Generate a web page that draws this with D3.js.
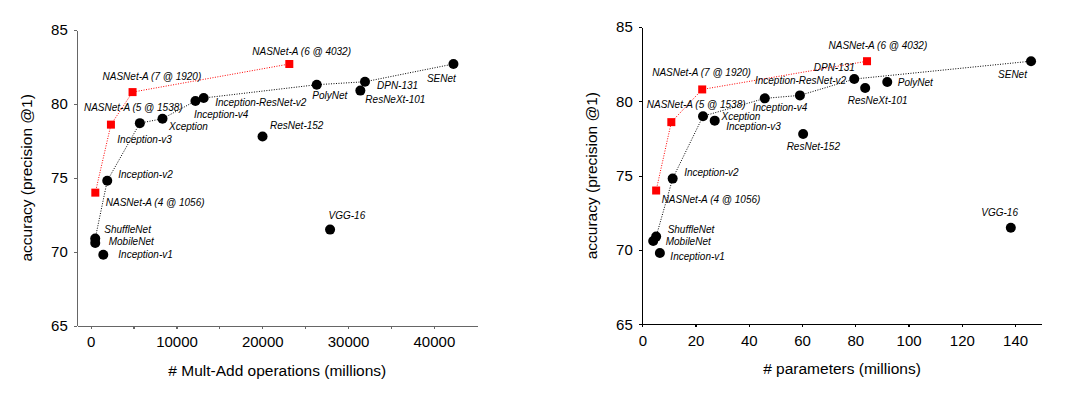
<!DOCTYPE html>
<html lang="en">
  <head>
    <meta charset="UTF-8" />
    <title>NASNet accuracy vs cost</title>
    <style>
      body { margin: 0; background: #fff; }
      .axis path, .axis line { fill: none; shape-rendering: crispEdges; }
      .axis text { font-family: "Liberation Sans", Arial, sans-serif; font-size: 15px; fill: #000; }
      .title { font-family: "Liberation Sans", Arial, sans-serif; font-size: 15.5px; fill: #000; }
      .lbl { font-family: "Liberation Sans", Arial, sans-serif; font-size: 10px; font-style: italic; fill: #000; }
    </style>
  </head>
  <body>
    <div id="app"></div>
    <script src="https://cdn.jsdelivr.net/npm/d3@7"></script>
    <script>
      // models shown on both panels
      const models = ["NASNet-A (4 @ 1056)", "NASNet-A (5 @ 1538)", "NASNet-A (7 @ 1920)", "NASNet-A (6 @ 4032)",
        "ShuffleNet", "MobileNet", "Inception-v1", "Inception-v2", "Inception-v3", "Xception",
        "Inception-v4", "Inception-ResNet-v2", "ResNet-152", "PolyNet", "DPN-131", "ResNeXt-101", "SENet", "VGG-16"];
      // top-1 accuracy
      const accuracy = [74.0, 78.6, 80.8, 82.7,
        70.9, 70.6, 69.8, 74.8, 78.7, 79.0,
        80.2, 80.4, 77.8, 81.3, 81.5, 80.9, 82.7, 71.5];
      // mult-add operations (millions)
      const multAdds = [540, 2360, 4880, 23150,
        530, 530, 1470, 1930, 5730, 8370,
        12210, 13170, 20030, 26350, 31970, 31430, 42280, 27900];
      // parameters (millions)
      const params = [5.2, 10.9, 22.5, 84.4,
        5.2, 4.1, 6.6, 11.4, 27.2, 22.8,
        46.0, 59.2, 60.4, 92.0, 79.6, 83.7, 146.0, 138.4];

      const nasnetOrder = ["NASNet-A (4 @ 1056)", "NASNet-A (5 @ 1538)", "NASNet-A (7 @ 1920)", "NASNet-A (6 @ 4032)"];
      const frontierMultAdds = ["ShuffleNet", "Inception-v2", "Inception-v3", "Xception", "Inception-v4",
        "Inception-ResNet-v2", "PolyNet", "DPN-131", "SENet"];
      const frontierParams = ["ShuffleNet", "Inception-v2", "Xception", "Inception-v4",
        "Inception-ResNet-v2", "DPN-131", "SENet"];

      const yTicks = [65, 70, 75, 80, 85];
      const xTicksMultAdds = d3.range(0, 40001, 5000);
      const xTicksParams = d3.range(0, 141, 20);

      // label placement (text start relative to marker centre)
      const offsetsLeft = {
        "NASNet-A (6 @ 4032)": [-37, -9], "NASNet-A (7 @ 1920)": [-30, -12.5], "NASNet-A (5 @ 1538)": [-27, -14],
        "NASNet-A (4 @ 1056)": [10.5, 13], "Inception-v2": [11, -2.5], "ShuffleNet": [9, -5.5],
        "MobileNet": [13.5, 2], "Inception-v1": [15, 3.5], "VGG-16": [-1.5, -10.5],
        "Inception-v3": [-22.5, 19.5], "Xception": [6.5, 11], "Inception-v4": [-1.5, 17],
        "Inception-ResNet-v2": [11.5, 8], "ResNet-152": [7.5, -7], "PolyNet": [-4.5, 14.5],
        "DPN-131": [12, 7], "ResNeXt-101": [5, 12.5], "SENet": [-26.5, 17.5]
      };
      const offsetsRight = {
        "NASNet-A (6 @ 4032)": [-38.5, -12.5], "NASNet-A (7 @ 1920)": [-50, -13], "NASNet-A (5 @ 1538)": [-24.5, -14.5],
        "NASNet-A (4 @ 1056)": [5.5, 12.5], "Inception-v2": [11.5, -2.5], "ShuffleNet": [11.5, -4],
        "MobileNet": [12.5, 3.5], "Inception-v1": [10.5, 7], "VGG-16": [-29.5, -11.5],
        "Inception-v3": [11.5, 9], "Xception": [18.5, 3.5], "Inception-v4": [-12, 12.5],
        "Inception-ResNet-v2": [-45, -11], "ResNet-152": [-16.5, 15.5], "PolyNet": [10.5, 4],
        "DPN-131": [-40.5, -8.5], "ResNeXt-101": [-17.5, 16.5], "SENet": [-33, 16.5]
      };

      const svg = d3.select("#app").append("svg").attr("width", 1078).attr("height", 393);

      function drawPanel(cfg) {
        const x = d3.scaleLinear().domain(cfg.xDomain).range([cfg.left, cfg.right]);
        const y = d3.scaleLinear().domain([65, 85]).range([cfg.bottom, cfg.top]);
        const g = svg.append("g");

        const xAxis = d3.axisBottom(x).tickValues(cfg.xTicks).tickSize(3).tickSizeOuter(0).tickPadding(8)
          .tickFormat(cfg.xFormat);
        g.append("g").attr("class", "axis").attr("transform", `translate(0,${cfg.bottom})`).call(xAxis);
        const yAxis = d3.axisLeft(y).tickValues(yTicks).tickSize(3).tickSizeOuter(0).tickPadding(6.5);
        g.append("g").attr("class", "axis").attr("transform", `translate(${cfg.left},0)`).call(yAxis);
        g.selectAll(".axis path, .axis line").attr("stroke", cfg.axisColor).attr("stroke-width", 1.2);

        g.append("text").attr("class", "title").attr("text-anchor", "middle")
          .attr("x", (cfg.left + cfg.right) / 2).attr("y", cfg.bottom + 50).text(cfg.xTitle);
        g.append("text").attr("class", "title").attr("text-anchor", "middle")
          .attr("transform", `translate(${cfg.left - 45},${(cfg.top + cfg.bottom) / 2}) rotate(-90)`)
          .text("accuracy (precision @1)");

        const pt = name => {
          const i = models.indexOf(name);
          return [x(cfg.xVals[i]), y(accuracy[i])];
        };
        const line = d3.line();

        g.append("path").attr("d", line(cfg.frontier.map(pt)))
          .attr("fill", "none").attr("stroke", "#000").attr("stroke-width", 1).attr("stroke-dasharray", "1,1.5");
        g.append("path").attr("d", line(nasnetOrder.map(pt)))
          .attr("fill", "none").attr("stroke", "#f00").attr("stroke-width", 1).attr("stroke-dasharray", "1,1.5");

        const others = models.filter(m => !nasnetOrder.includes(m));
        g.selectAll("circle").data(others).enter().append("circle")
          .attr("cx", d => pt(d)[0]).attr("cy", d => pt(d)[1]).attr("r", 5).attr("fill", "#000");
        g.selectAll("rect.nas").data(nasnetOrder).enter().append("rect").attr("class", "nas")
          .attr("x", d => pt(d)[0] - 4).attr("y", d => pt(d)[1] - 4)
          .attr("width", 8).attr("height", 8).attr("fill", "#f00");

        g.selectAll("text.lbl").data(models).enter().append("text").attr("class", "lbl")
          .attr("x", d => pt(d)[0] + cfg.offsets[d][0])
          .attr("y", d => pt(d)[1] + cfg.offsets[d][1])
          .text(d => d);
      }

      drawPanel({
        left: 77.3, right: 477.3, top: 30, bottom: 325.7,
        xDomain: [-1560, 45060], xTicks: xTicksMultAdds, xVals: multAdds,
        xFormat: d => (d % 10000 === 0 ? d : ""),
        xTitle: "# Mult-Add operations (millions)", axisColor: "#666",
        frontier: frontierMultAdds, offsets: offsetsLeft
      });
      drawPanel({
        left: 642.3, right: 1041.7, top: 27, bottom: 324.3,
        xDomain: [0, 150], xTicks: xTicksParams, xVals: params,
        xFormat: d => d,
        xTitle: "# parameters (millions)", axisColor: "#000",
        frontier: frontierParams, offsets: offsetsRight
      });
    </script>
  </body>
</html>
